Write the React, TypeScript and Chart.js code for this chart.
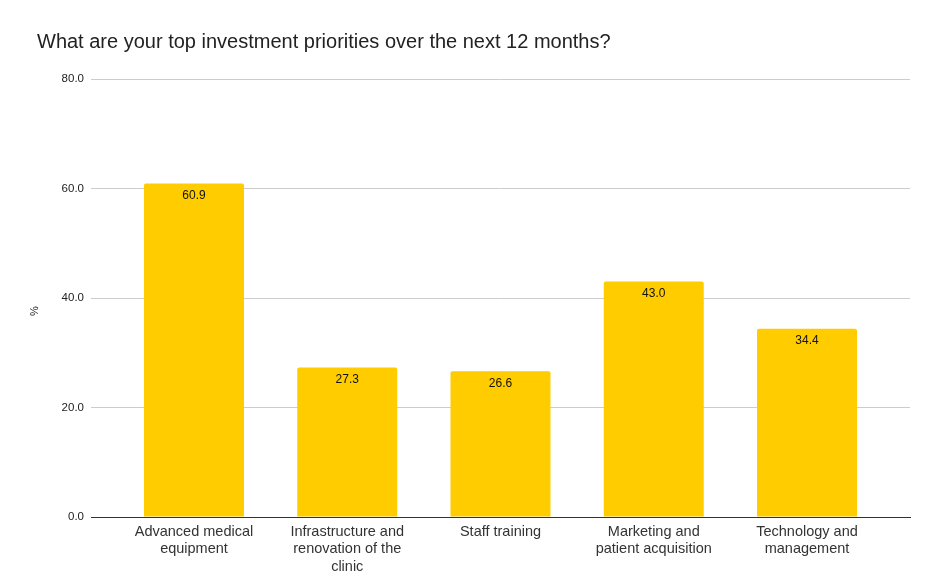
import React, { useEffect, useRef } from "react";
import { Chart, registerables } from "chart.js";

Chart.register(...registerables);

const chartTitle = "What are your top investment priorities over the next 12 months?";
const categories: string[][] = [
  ["Advanced medical", "equipment"],
  ["Infrastructure and", "renovation of the", "clinic"],
  ["Staff training"],
  ["Marketing and", "patient acquisition"],
  ["Technology and", "management"],
];
const values: number[] = [60.9, 27.3, 26.6, 43.0, 34.4];
const yTicks: number[] = [0, 20, 40, 60, 80];
const yAxisTitle = "%";

const FONT = '"Liberation Sans", Arial, sans-serif';
const BAR_COLOR = "#FFCC00";

const titlePlugin = {
  id: "leftTitle",
  afterDraw(chart: any) {
    const ctx = chart.ctx;
    ctx.save();
    ctx.font = `20px ${FONT}`;
    ctx.fillStyle = "#222222";
    ctx.textAlign = "left";
    ctx.textBaseline = "alphabetic";
    ctx.fillText(chartTitle, 37, 48);
    // y axis title
    ctx.translate(35, 311);
    ctx.rotate(-Math.PI / 2);
    ctx.font = `11px ${FONT}`;
    ctx.textAlign = "center";
    ctx.textBaseline = "middle";
    ctx.fillText(yAxisTitle, 0, 0);
    ctx.restore();
  },
};

const valueLabelPlugin = {
  id: "valueLabels",
  afterDatasetsDraw(chart: any) {
    const ctx = chart.ctx;
    const meta = chart.getDatasetMeta(0);
    ctx.save();
    ctx.font = `12px ${FONT}`;
    ctx.fillStyle = "#111111";
    ctx.textAlign = "center";
    ctx.textBaseline = "middle";
    meta.data.forEach((bar: any, i: number) => {
      ctx.fillText(values[i].toFixed(1), bar.x, bar.y + 12);
    });
    ctx.restore();
  },
};

export default function App() {
  const canvasRef = useRef<HTMLCanvasElement | null>(null);

  useEffect(() => {
    if (!canvasRef.current) return;
    const chart = new Chart(canvasRef.current, {
      type: "bar",
      data: {
        datasets: [
          {
            data: values.map((v, i) => ({ x: i, y: v })),
            backgroundColor: BAR_COLOR,
            borderWidth: 0,
            borderRadius: 2,
            categoryPercentage: 1,
            barPercentage: 0.6525,
          },
        ],
      },
      options: {
        animation: false,
        responsive: false,
        maintainAspectRatio: false,
        layout: { padding: { top: 79, right: 29, bottom: 0, left: 0 } },
        plugins: {
          legend: { display: false },
          tooltip: { enabled: false },
          title: { display: false },
        },
        scales: {
          x: {
            type: "linear",
            offset: false,
            min: -0.672,
            max: 4.672,
            afterBuildTicks: (scale: any) => {
              scale.ticks = categories.map((_, i) => ({ value: i }));
            },
            afterFit: (scale: any) => {
              scale.height = 63;
            },
            grid: { display: false, drawTicks: false, offset: false },
            border: { display: true, color: "#333333", width: 1 },
            ticks: {
              autoSkip: false,
              maxRotation: 0,
              minRotation: 0,
              padding: 6,
              color: "#333333",
              font: { family: FONT, size: 14.5, lineHeight: 1.2 },
              callback: (v: any) => categories[Math.round(Number(v))] ?? "",
            },
          },
          y: {
            min: 0,
            max: 80,
            afterBuildTicks: (scale: any) => {
              scale.ticks = yTicks.map((v) => ({ value: v }));
            },
            afterFit: (scale: any) => {
              scale.width = 91;
            },
            grid: {
              drawTicks: false,
              color: (c: any) => (c.tick && c.tick.value === 0 ? "#333333" : "#cccccc"),
              lineWidth: 1,
            },
            border: { display: false },
            ticks: {
              padding: 7,
              color: "#222222",
              font: { family: FONT, size: 11.5 },
              callback: (v: any) => Number(v).toFixed(1),
            },
            title: { display: false },
          },
        },
      },
      plugins: [titlePlugin, valueLabelPlugin],
    });
    return () => chart.destroy();
  }, []);

  return (
    <div style={{ position: "fixed", left: 0, top: 0, width: 939, height: 580, background: "#ffffff" }}>
      <canvas ref={canvasRef} width={939} height={580} style={{ width: 939, height: 580, display: "block" }} />
    </div>
  );
}
